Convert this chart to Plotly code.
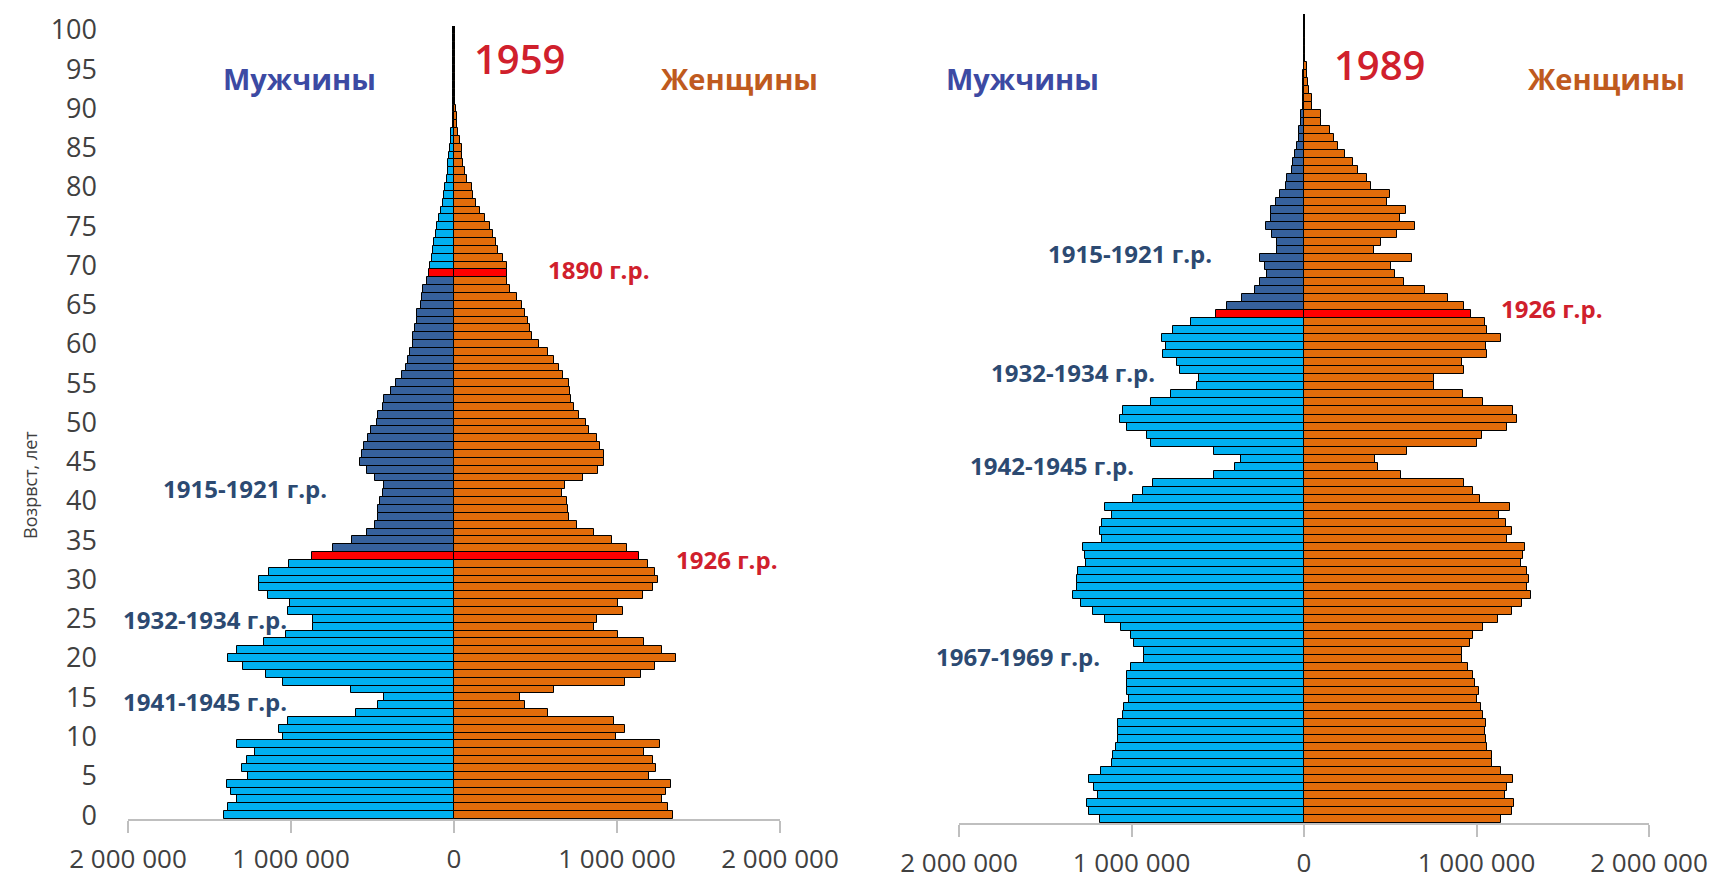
import plotly.graph_objects as go

# ---------------- data (thousands of people, by single year of age 0..100) ----------------
ages = list(range(101))

men_1959 = [1411, 1384, 1333, 1370, 1391, 1262, 1303, 1272, 1221, 1329,
            1047, 1074, 1020, 601, 464, 427, 634, 1047, 1153, 1292,
            1384, 1329, 1166, 1031, 867, 867, 1016, 1006, 1139, 1194,
            1194, 1133, 1010, 873, 744, 628, 536, 485, 464, 464,
            454, 434, 427, 485, 536, 577, 566, 550, 530, 511,
            474, 464, 438, 429, 389, 356, 321, 294, 280, 270,
            249, 249, 239, 229, 225, 204, 198, 188, 164, 151,
            147, 137, 131, 123, 110, 102, 90, 82, 70, 61,
            55, 45, 35, 35, 29, 25, 20, 20, 8, 5,
            4, 4, 4, 4, 4, 4, 4, 4, 4, 4, 4]

women_1959 = [1342, 1315, 1274, 1301, 1329, 1198, 1239, 1223, 1166, 1264,
              994, 1049, 984, 579, 436, 405, 616, 1049, 1145, 1233,
              1362, 1278, 1168, 1004, 859, 875, 1039, 1008, 1157, 1223,
              1249, 1233, 1192, 1137, 1059, 967, 859, 753, 706, 701,
              695, 661, 681, 789, 885, 922, 922, 896, 875, 830,
              808, 767, 736, 716, 712, 708, 671, 646, 613, 579,
              524, 481, 466, 456, 436, 415, 384, 344, 327, 323,
              323, 299, 272, 258, 241, 221, 190, 160, 135, 119,
              108, 78, 67, 57, 47, 47, 37, 27, 16, 16,
              10, 5, 5, 5, 5, 5, 5, 5, 5, 5, 5]

men_1989 = [1183, 1244, 1256, 1192, 1217, 1244, 1177, 1115, 1109, 1090,
            1076, 1076, 1080, 1051, 1043, 1014, 1028, 1024, 1024, 1003,
            928, 928, 986, 1005, 1063, 1154, 1225, 1295, 1337, 1314,
            1314, 1308, 1264, 1270, 1279, 1173, 1183, 1169, 1115, 1154,
            989, 935, 877, 522, 400, 367, 522, 889, 908, 1028,
            1067, 1051, 889, 773, 622, 607, 719, 734, 819, 800,
            825, 757, 657, 512, 444, 361, 284, 255, 216, 226,
            255, 155, 155, 187, 220, 193, 193, 162, 139, 104,
            100, 71, 66, 52, 39, 27, 27, 19, 19, 8,
            4, 3, 3, 3, 2, 2, 2, 2, 2, 2, 2]

women_1989 = [1140, 1204, 1217, 1165, 1179, 1210, 1140, 1088, 1088, 1063,
              1055, 1049, 1055, 1036, 1026, 1001, 1014, 991, 982, 953,
              914, 914, 962, 978, 1040, 1127, 1204, 1262, 1316, 1291,
              1304, 1295, 1256, 1268, 1281, 1179, 1204, 1171, 1130, 1194,
              1020, 978, 928, 560, 431, 412, 595, 1001, 1030, 1175,
              1233, 1214, 1040, 920, 754, 754, 928, 914, 1059, 1053,
              1142, 1059, 1049, 966, 928, 837, 701, 580, 528, 502,
              624, 406, 444, 541, 643, 557, 591, 483, 499, 386,
              363, 315, 286, 238, 199, 174, 151, 97, 97, 44,
              48, 31, 25, 19, 19, 8, 4, 3, 3, 2, 2]

# highlighted cohorts (ages in census year)
red_ages_1959 = [33, 69]          # born 1926 and 1890
dark_ages_1959 = list(range(34, 69))
red_ages_1989 = [63]              # born 1926
dark_ages_1989 = list(range(64, 101))

tick_vals = [-2000000, -1000000, 0, 1000000, 2000000]
age_ticks = list(range(0, 101, 5))

# ---------------- styles ----------------
LIGHT = '#00b0f0'
DARK = '#36619c'
RED = '#ff0000'
ORANGE = '#e36c0a'
FONT = 'Open Sans'
W, H = 1722, 881


def px(x):
    return x / W


def py(y):
    return 1 - y / H


def men_colors(red, dark):
    return [RED if a in red else (DARK if a in dark else LIGHT) for a in ages]


def women_colors(red):
    return [RED if a in red else ORANGE for a in ages]


def fmt(v):
    return f"{abs(v):,}".replace(",", " ")


fig = go.Figure()
for xa, ya, men, women, red, dark in [
    ('x', 'y', men_1959, women_1959, red_ages_1959, dark_ages_1959),
    ('x2', 'y2', men_1989, women_1989, red_ages_1989, dark_ages_1989),
]:
    fig.add_trace(go.Bar(y=ages, x=[-v * 1000 for v in men], orientation='h', width=1,
                         marker=dict(color=men_colors(red, dark), line=dict(color='black', width=1)),
                         xaxis=xa, yaxis=ya, showlegend=False))
    fig.add_trace(go.Bar(y=ages, x=[v * 1000 for v in women], orientation='h', width=1,
                         marker=dict(color=women_colors(red), line=dict(color='black', width=1)),
                         xaxis=xa, yaxis=ya, showlegend=False))

xcommon = dict(range=[-2000000, 2000000], tickvals=tick_vals, ticktext=[fmt(v) for v in tick_vals],
               showline=True, linecolor='#bfbfbf', linewidth=2, ticks='outside', ticklen=12,
               tickwidth=2, tickcolor='#bfbfbf', showgrid=False, zeroline=True, zerolinewidth=2,
               layer='above traces', tickfont=dict(family=FONT, size=26, color='#404040'),
               ticklabelstandoff=4, fixedrange=True, automargin=False)
ycommon = dict(range=[-0.5, 100.5], showgrid=False, zeroline=False, showline=False, fixedrange=True,
               automargin=False)

fig.update_layout(
    width=W, height=H, margin=dict(l=0, r=0, t=0, b=0),
    paper_bgcolor='white', plot_bgcolor='white', barmode='relative', bargap=0,
    font=dict(family=FONT),
    xaxis=dict(domain=[px(128), px(780)], anchor='y', zerolinecolor='#a6a6a6', **xcommon),
    yaxis=dict(domain=[py(819), py(26)], anchor='x', tickvals=age_ticks, ticks='',
               tickfont=dict(family=FONT, size=27, color='#404040'), ticklabelstandoff=30, **ycommon),
    xaxis2=dict(domain=[px(959), px(1649)], anchor='y2', zerolinecolor='#000000', **xcommon),
    yaxis2=dict(domain=[py(823), py(14)], anchor='x2', showticklabels=False, ticks='', **ycommon),
)

BLUE_T = '#3c4aa3'
BROWN_T = '#bf5a1e'
RED_T = '#d0202c'
NAVY_T = '#2c4a72'

labels = [
    # text, x_px, y_px, size, color, weight
    ('Мужчины', 299, 79, 29, BLUE_T, 700),
    ('1959', 519, 58, 40, RED_T, 600),
    ('Женщины', 739, 79, 29, BROWN_T, 700),
    ('1890 г.р.', 598, 270, 24, RED_T, 700),
    ('1926 г.р.', 726, 559, 24, RED_T, 700),
    ('1915-1921 г.р.', 245, 488, 24, NAVY_T, 700),
    ('1932-1934 г.р.', 205, 619, 24, NAVY_T, 700),
    ('1941-1945 г.р.', 205, 701, 24, NAVY_T, 700),
    ('Мужчины', 1022, 79, 29, BLUE_T, 700),
    ('1989', 1379, 64, 40, RED_T, 600),
    ('Женщины', 1606, 79, 29, BROWN_T, 700),
    ('1915-1921 г.р.', 1130, 254, 24, NAVY_T, 700),
    ('1926 г.р.', 1551, 308, 24, RED_T, 700),
    ('1932-1934 г.р.', 1073, 372, 24, NAVY_T, 700),
    ('1942-1945 г.р.', 1052, 465, 24, NAVY_T, 700),
    ('1967-1969 г.р.', 1018, 656, 24, NAVY_T, 700),
]
for text, x, y, size, color, weight in labels:
    fig.add_annotation(x=px(x), y=py(y), xref='paper', yref='paper', text=text,
                       showarrow=False, xanchor='center', yanchor='middle',
                       font=dict(family=FONT, size=size, color=color, weight=weight))

fig.add_annotation(x=px(30), y=py(485), xref='paper', yref='paper', text='Возрвст, лет', textangle=-90,
                   showarrow=False, xanchor='center', yanchor='middle',
                   font=dict(family=FONT, size=18, color='#404040'))

fig.write_html("out.html", config={'displayModeBar': False},
               post_script="document.body.style.margin='0px';document.body.style.overflow='hidden';")
